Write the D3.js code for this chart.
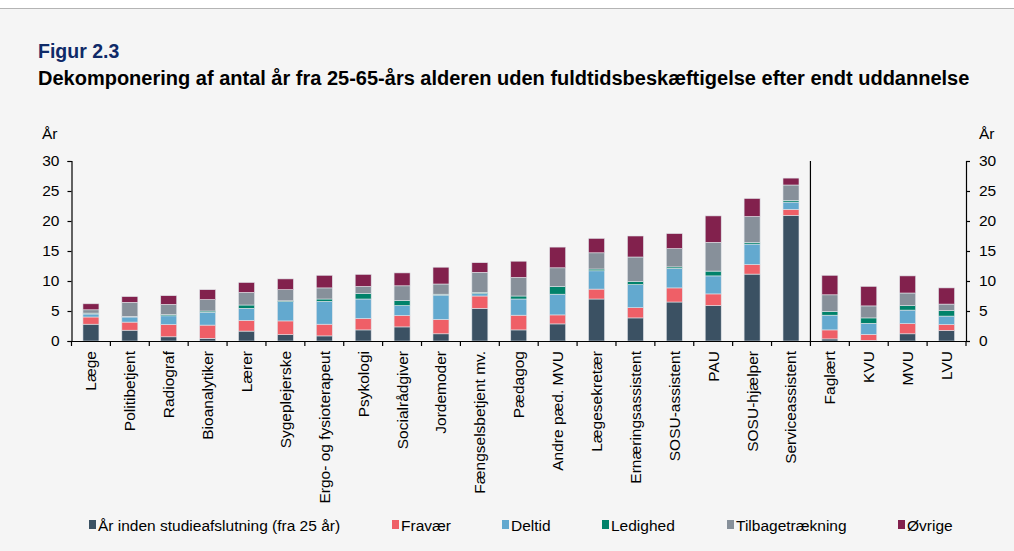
<!DOCTYPE html>
<html>
<head>
<meta charset="utf-8">
<script src="https://cdn.jsdelivr.net/npm/d3@7"></script>
<style>
	body { margin: 0; background: #fff; font-family: "Liberation Sans", Arial, sans-serif; }
	svg { display: block; }
</style>
</head>
<body>
<svg id="chart" width="1014" height="551"></svg>
<script>

var categories = ["Læge", "Politibetjent", "Radiograf", "Bioanalytiker", "Lærer", "Sygeplejerske",
	"Ergo- og fysioterapeut", "Psykologi", "Socialrådgiver", "Jordemoder", "Fængselsbetjent mv.",
	"Pædagog", "Andre pæd. MVU", "Lægesekretær", "Ernæringsassistent", "SOSU-assistent", "PAU",
	"SOSU-hjælper", "Serviceassistent", "Faglært", "KVU", "MVU", "LVU"];

var seriesNames = ["År inden studieafslutning (fra 25 år)", "Fravær", "Deltid", "Ledighed", "Tilbagetrækning", "Øvrige"];
var seriesColors = ["#3b5163", "#ef5f67", "#63a9cf", "#00826a", "#87909a", "#82214d"];

var studie = [2.8, 1.8, 0.7, 0.45, 1.65, 1.05, 0.85, 1.85, 2.35, 1.2, 5.45, 1.85, 2.85, 7.0, 3.85, 6.5, 5.9, 11.15, 20.95, 0.35, 0.1, 1.2, 1.75];
var fravaer = [1.2, 1.35, 2.05, 2.2, 1.8, 2.3, 1.95, 1.9, 1.9, 2.4, 2.05, 2.45, 1.5, 1.65, 1.7, 2.35, 1.95, 1.6, 1.0, 1.5, 1.0, 1.7, 1.0];
var deltid = [0.5, 0.85, 1.45, 2.15, 2.0, 3.2, 3.8, 3.25, 1.65, 4.05, 0.4, 2.7, 3.45, 3.05, 3.85, 3.25, 3.0, 3.4, 1.2, 2.45, 1.85, 2.25, 1.4];
var ledighed = [0.15, 0.1, 0.2, 0.2, 0.55, 0.15, 0.4, 0.95, 0.85, 0.15, 0.2, 0.5, 1.3, 0.3, 0.55, 0.25, 0.8, 0.3, 0.3, 0.65, 0.9, 0.75, 0.9];
var tilbage = [0.55, 2.35, 1.7, 1.9, 2.1, 1.85, 1.85, 1.15, 2.45, 1.7, 3.35, 3.1, 3.1, 2.7, 4.05, 3.05, 4.8, 4.3, 2.55, 2.75, 2.0, 2.1, 1.1];
var oevrige = [1.0, 0.95, 1.45, 1.65, 1.65, 1.8, 2.1, 2.0, 2.15, 2.8, 1.6, 2.7, 3.45, 2.4, 3.5, 2.5, 4.4, 3.0, 1.15, 3.25, 3.25, 2.85, 2.7];

var yTicks = [0, 5, 10, 15, 20, 25, 30];

var chart = {
	draw: function() {
		var svg = d3.select("#chart");
		var W = 1014, H = 551;
		var margin = { left: 71.5, right: 48, top: 161, bottom: 210 };

		// background
		svg.append("rect").attr("width", W).attr("height", H).attr("fill", "#f5f5f5");
		svg.append("rect").attr("width", W).attr("height", 8).attr("fill", "#fff");
		svg.append("line").attr("x1", 0).attr("x2", W).attr("y1", 8.5).attr("y2", 8.5)
			.attr("stroke", "#b4b4b4").attr("stroke-width", 1);

		// titles
		svg.append("text").attr("x", 38).attr("y", 58).text("Figur 2.3")
			.attr("font-size", 19.5).attr("font-weight", "bold").attr("fill", "#0f2a68");
		svg.append("text").attr("x", 38).attr("y", 85)
			.text("Dekomponering af antal år fra 25-65-års alderen uden fuldtidsbeskæftigelse efter endt uddannelse")
			.attr("font-size", 20).attr("font-weight", "bold").attr("fill", "#000");

		var x = d3.scaleBand().domain(categories).range([margin.left, 966]).paddingInner(0).paddingOuter(0);
		var y = d3.scaleLinear().domain([0, 30]).range([341, 161]);

		var rows = categories.map(function(c, i) {
			return { cat: c, s0: studie[i], s1: fravaer[i], s2: deltid[i], s3: ledighed[i], s4: tilbage[i], s5: oevrige[i] };
		});
		var stack = d3.stack().keys(["s0", "s1", "s2", "s3", "s4", "s5"]);
		var layers = stack(rows);

		var barW = 16;
		svg.append("g").selectAll("g").data(layers).join("g")
			.attr("fill", function(d, i) { return seriesColors[i]; })
			.selectAll("rect").data(function(d) { return d; }).join("rect")
			.attr("x", function(d) { return x(d.data.cat) + x.bandwidth() / 2 - barW / 2; })
			.attr("width", barW)
			.attr("y", function(d) { return y(d[1]); })
			.attr("height", function(d) { return y(d[0]) - y(d[1]); })
			.attr("stroke", "#dfe3e8").attr("stroke-width", 0.6);

		// left axis
		var left = svg.append("g").attr("transform", "translate(" + margin.left + ",0)")
			.call(d3.axisLeft(y).tickValues(yTicks).tickSize(4).tickPadding(8));
		// right axis
		var right = svg.append("g").attr("transform", "translate(966,0)")
			.call(d3.axisRight(y).tickValues(yTicks).tickSize(4).tickPadding(9));
		[left, right].forEach(function(g) {
			g.select(".domain").attr("stroke", "#000").attr("stroke-width", 1.2);
			g.selectAll(".tick line").attr("stroke", "#000").attr("stroke-width", 1.2);
			g.selectAll("text").attr("font-size", 15.5).attr("fill", "#000")
				.attr("font-family", "Liberation Sans, Arial, sans-serif");
		});

		// bottom axis: ticks at band boundaries
		var bottom = svg.append("g");
		bottom.append("line").attr("x1", margin.left).attr("x2", 966).attr("y1", 341.5).attr("y2", 341.5)
			.attr("stroke", "#000").attr("stroke-width", 1.2);
		var edges = categories.map(function(c) { return x(c); }).concat([966]);
		bottom.selectAll(".edge").data(edges).join("line")
			.attr("x1", function(d) { return d; }).attr("x2", function(d) { return d; })
			.attr("y1", 341).attr("y2", 346).attr("stroke", "#000").attr("stroke-width", 1.2);
		bottom.selectAll(".lbl").data(categories).join("text")
			.attr("transform", function(d) {
				return "translate(" + (x(d) + x.bandwidth() / 2 + 5.5) + ",351) rotate(-90)";
			})
			.attr("text-anchor", "end").attr("font-size", 15.5).attr("fill", "#000")
			.text(function(d) { return d; });

		// separator between occupations and education levels
		var sepX = x("Faglært");
		svg.append("line").attr("x1", sepX).attr("x2", sepX).attr("y1", 161).attr("y2", 341)
			.attr("stroke", "#000").attr("stroke-width", 1.2);

		// unit labels
		svg.append("text").attr("x", 42).attr("y", 139).text("År").attr("font-size", 15.5);
		svg.append("text").attr("x", 979).attr("y", 139).text("År").attr("font-size", 15.5);

		// legend
		var legendX = [89, 392, 502, 602, 727, 898];
		var leg = svg.append("g").selectAll("g").data(seriesNames).join("g")
			.attr("transform", function(d, i) { return "translate(" + legendX[i] + ",525)"; });
		leg.append("rect").attr("x", 0).attr("y", -5).attr("width", 7).attr("height", 9)
			.attr("fill", function(d, i) { return seriesColors[i]; });
		leg.append("text").attr("x", 9).attr("y", 5.5).attr("font-size", 15.5).text(function(d) { return d; });
	}
};

chart.draw();
</script>
</body>
</html>
